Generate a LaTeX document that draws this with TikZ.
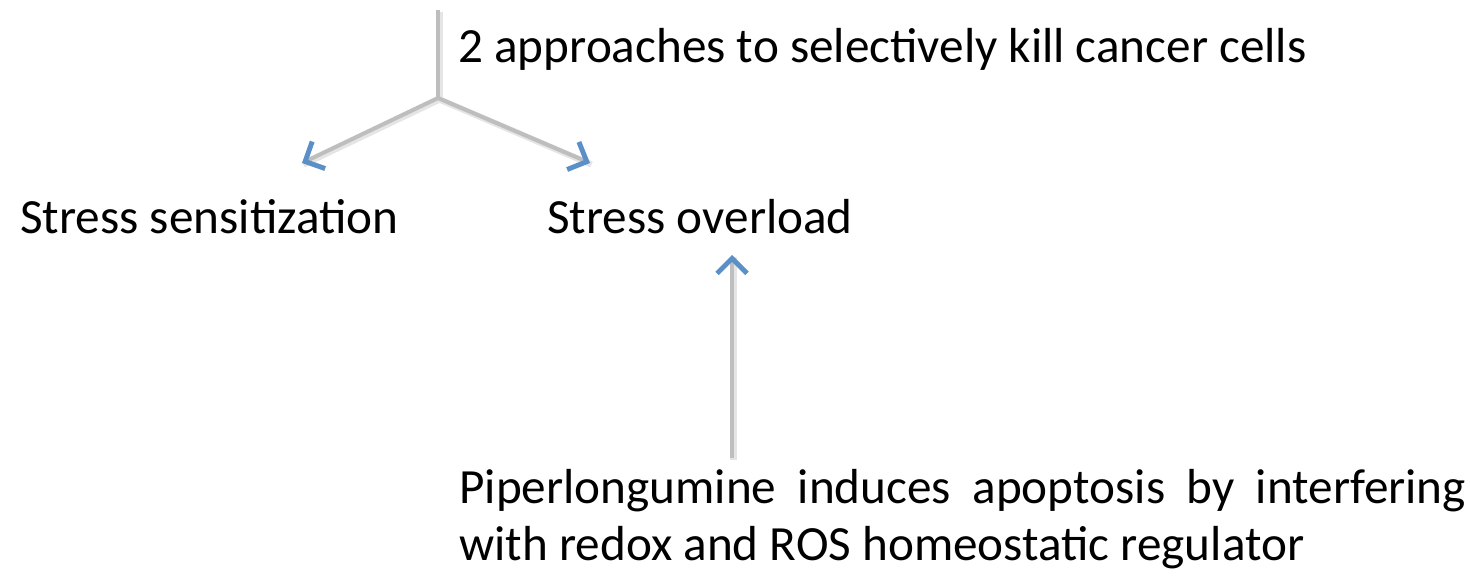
\documentclass[tikz,border=0pt]{standalone}
\usepackage{fontspec}
\setmainfont{Carlito}
\usetikzlibrary{arrows.meta}
\definecolor{tipblue}{HTML}{5B8FC7}
\definecolor{stemgray}{HTML}{BEBEBE}
\tikzstyle{label} = [font=\fontsize{28}{32.3}\selectfont, inner sep=0pt, anchor=base west]
\tikzstyle{stem} = [draw=stemgray, line width=2.3pt]
\tikzstyle{shade} = [draw=black!10, line width=3.6pt, transform canvas={shift={(0.03cm,-0.03cm)}}]
\tikzstyle{pointer} = [stem, -{Straight Barb[color=tipblue, length=0.3cm, width=0.6cm, line width=2.8pt]}]

\begin{document}
\begin{tikzpicture}[x=0.02cm, y=-0.02cm]
	\useasboundingbox (0,0) rectangle (1470,582);

	% First the texts
	\node[label] (approaches) at (458,62) {2 approaches to selectively kill cancer cells};
	\node[label] (sensitization) at (20,233) {Stress sensitization};
	\node[label] (overload) at (547,233) {Stress overload};
	\node[label, anchor=north west, text width=20.14cm, align=justify] (piperlongumine) at (459,469)
		{Piperlongumine induces apoptosis by interfering\linebreak with redox and ROS homeostatic regulator};

	% Then the ends of the connectors
	\coordinate (top) at (438,10);
	\coordinate (split) at (438,98);
	\coordinate (lefttip) at (302,163);
	\coordinate (righttip) at (590,163);
	\coordinate (foot) at (732,458);
	\coordinate (uptip) at (732,255);

	% Soft shadows under the stems
	\foreach \source/\dest in {top/split, split/lefttip, split/righttip, foot/uptip}
	\path[shade] (\source) -- (\dest);

	% Connect them
	\path[stem] (top) -- (split);
	\foreach \dest in {lefttip, righttip}
	\path[pointer] (split) -- (\dest);
	\path[pointer] (foot) -- (uptip);

\end{tikzpicture}
\end{document}
